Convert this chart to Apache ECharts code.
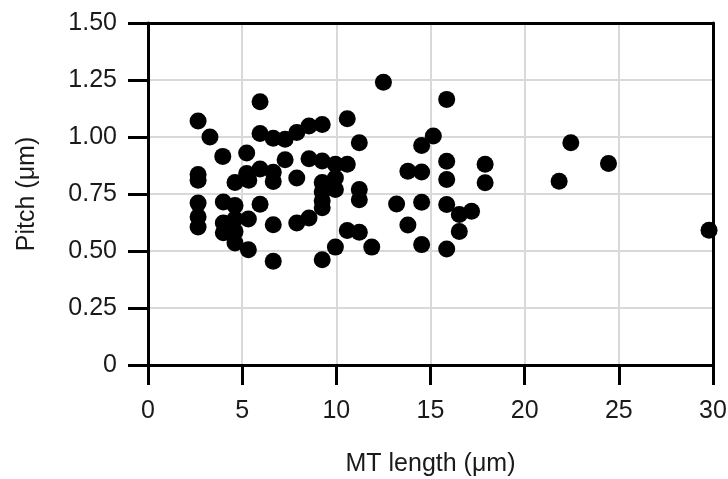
<!DOCTYPE html>
<html>
<head>
<meta charset="utf-8">
<script src="https://cdn.jsdelivr.net/npm/echarts@6/dist/echarts.min.js"></script>
<style>
  html, body { margin: 0; padding: 0; background: #fff; }
  #chart { width: 728px; height: 479px; }
</style>
</head>
<body>
<div id="chart"></div>
<script>
// MT length (µm) and pitch (µm)
var lengths = [
  2.66, 2.66, 2.66, 2.66, 2.66, 2.66,
  3.29, 3.97, 4.0, 4.0, 4.0,
  4.62, 4.62, 4.62, 4.62, 4.62,
  5.24, 5.24, 5.35, 5.33, 5.33,
  5.95, 5.95, 5.95, 5.95,
  6.65, 6.65, 6.65, 6.65, 6.65,
  7.28, 7.28, 7.9, 7.9, 7.9,
  8.55, 8.55, 8.55,
  9.25, 9.25, 9.25, 9.25, 9.25, 9.25, 9.25,
  9.95, 9.95, 9.95, 9.95,
  10.58, 10.58, 10.58,
  11.22, 11.22, 11.22, 11.22,
  11.88, 12.5, 13.2, 13.8, 13.8,
  14.53, 14.53, 14.53, 14.53, 15.15,
  15.86, 15.86, 15.86, 15.86, 15.86,
  16.53, 16.53, 17.18, 17.9, 17.9,
  21.83, 22.45, 24.45, 29.79
];
var pitches = [
  1.07, 0.835, 0.81, 0.71, 0.65, 0.605,
  1.0, 0.915, 0.715, 0.623, 0.58,
  0.80, 0.70, 0.64, 0.585, 0.535,
  0.93, 0.84, 0.81, 0.64, 0.505,
  1.155, 1.015, 0.86, 0.705,
  0.995, 0.845, 0.805, 0.615, 0.455,
  0.99, 0.90, 1.02, 0.82, 0.623,
  1.048, 0.905, 0.645,
  1.055, 0.895, 0.80, 0.76, 0.72, 0.69, 0.462,
  0.88, 0.82, 0.77, 0.517,
  1.08, 0.88, 0.59,
  0.975, 0.77, 0.725, 0.582,
  0.517, 1.24, 0.706, 0.85, 0.614,
  0.963, 0.846, 0.714, 0.528, 1.004,
  1.165, 0.894, 0.814, 0.704, 0.509,
  0.66, 0.586, 0.674, 0.88, 0.799,
  0.806, 0.975, 0.884, 0.591
];

var xName = "MT length (μm)";
var yName = "Pitch (μm)";

var points = lengths.map(function (x, i) { return [x, pitches[i]]; });

var font = "Liberation Sans, Arial, sans-serif";
var frameLine = { show: true, onZero: false, lineStyle: { color: "#000", width: 3 } };
var chart = echarts.init(document.getElementById("chart"));

chart.setOption({
  animation: false,
  grid: { left: 148, right: 15, top: 23, bottom: 114, outerBoundsMode: "none" },
  xAxis: [{
    type: "value",
    min: 0, max: 30, interval: 5,
    name: xName,
    nameLocation: "middle",
    nameGap: 87,
    nameTextStyle: { fontFamily: font, fontSize: 25, color: "#1a1a1a" },
    axisLine: frameLine,
    axisTick: { show: true, length: 20, lineStyle: { color: "#000", width: 3 } },
    axisLabel: { margin: 34, fontFamily: font, fontSize: 25, color: "#1a1a1a" },
    splitLine: { lineStyle: { color: "#d9d9d9", width: 2 } }
  }, {
    // top frame line only
    type: "value", position: "top", min: 0, max: 30, interval: 5,
    axisLine: frameLine, axisTick: { show: false },
    axisLabel: { show: false }, splitLine: { show: false }
  }],
  yAxis: [{
    type: "value",
    min: 0, max: 1.5, interval: 0.25,
    name: yName,
    nameLocation: "middle",
    nameGap: 108,
    nameTextStyle: { fontFamily: font, fontSize: 25, color: "#1a1a1a" },
    axisLine: frameLine,
    axisTick: { show: true, length: 20, lineStyle: { color: "#000", width: 3 } },
    axisLabel: {
      margin: 31, fontFamily: font, fontSize: 25, color: "#1a1a1a",
      formatter: function (v) { return v === 0 ? "0" : v.toFixed(2); }
    },
    splitLine: { lineStyle: { color: "#d9d9d9", width: 2 } }
  }, {
    // right frame line only
    type: "value", position: "right", min: 0, max: 1.5, interval: 0.25,
    axisLine: frameLine, axisTick: { show: false },
    axisLabel: { show: false }, splitLine: { show: false }
  }],
  series: [{
    type: "scatter",
    data: points,
    symbolSize: 17,
    itemStyle: { color: "#000", opacity: 1 }
  }]
});
</script>
</body>
</html>
